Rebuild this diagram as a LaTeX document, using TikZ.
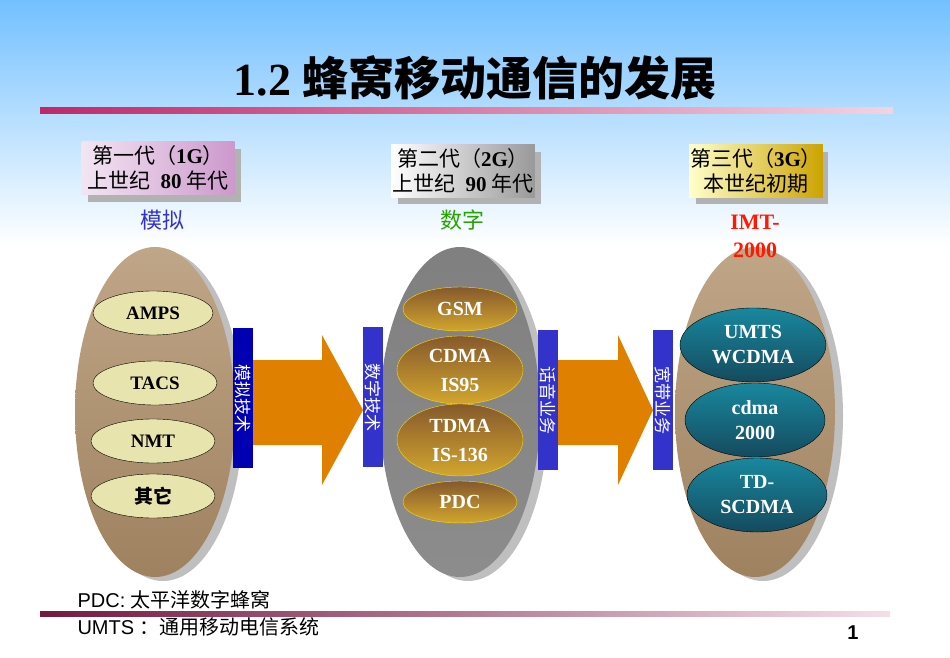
\documentclass[tikz,border=0pt]{standalone}
\usepackage{fontspec}
\setmainfont{Liberation Serif}
\newfontfamily\cjk{Noto Sans CJK SC}
\newfontfamily\lsans{Liberation Sans}
\usetikzlibrary{shapes.geometric,shadows}
\definecolor{tan}{HTML}{B0906A}
\definecolor{bar}{HTML}{3333CC}
\definecolor{org}{HTML}{E08000}
\definecolor{teal}{HTML}{1E6A86}
\definecolor{rose}{HTML}{C02868}
\begin{document}
\begin{tikzpicture}[x=1pt,y=-1pt,
 big/.style={ellipse,minimum width=160pt,minimum height=330pt,inner sep=0pt},
 sh/.style={fill=black!25},
 inA/.style={ellipse,draw=black,fill=yellow!15!olive!25!white,inner sep=0pt,font=\bfseries\fontsize{19}{20}\selectfont},
 inB/.style={ellipse,draw=yellow!80!orange,top color=brown!70!black,bottom color=brown!70!yellow,inner sep=0pt,text=white,font=\bfseries\fontsize{20}{29}\selectfont,align=center},
 inC/.style={ellipse,draw=black,top color=teal!80!cyan,bottom color=teal!70!black,inner sep=0pt,text=white,font=\bfseries\fontsize{20}{25}\selectfont,align=center},
 vbar/.style={fill=bar,minimum width=20pt,minimum height=140pt,inner sep=0pt},
 vtxt/.style={text=white,rotate=-90,font=\cjk\fontsize{17}{17}\selectfont},
 lbox/.style={inner sep=1pt,align=center,font=\fontsize{21}{25}\selectfont,minimum height=52pt}]
\useasboundingbox (0,0) rectangle (950,658);
\shade[top color=blue!45!cyan!55!white,bottom color=white] (0,0) rectangle (950,245);
\node (title) at (475,78) {\bfseries\fontsize{46}{50}\selectfont 1.2 {\cjk 蜂窝移动通信的发展}};
\shade[left color=rose,right color=rose!20!white] (40,108) rectangle (893,114);
\shade[left color=rose!60!black,right color=rose!15!white] (40,611) rectangle (890,616);
\fill[sh] (163,416) ellipse (80 and 165);
\node[big,top color=tan!80!white,bottom color=tan!90!black] (g1) at (155,412) {};
\fill[sh] (468,416) ellipse (80 and 165);
\node[big,top color=black!50,bottom color=black!45] (g2) at (460,412) {};
\fill[sh] (763,416) ellipse (80 and 165);
\node[big,top color=tan!80!white,bottom color=tan!90!black] (g3) at (755,412) {};
\node[inA,minimum width=120pt,minimum height=44pt] (amps) at (153,313) {AMPS};
\node[inA,minimum width=124pt,minimum height=44pt] (tacs) at (155,383) {TACS};
\node[inA,minimum width=124pt,minimum height=44pt] (nmt) at (153,441) {NMT};
\node[inA,minimum width=124pt,minimum height=44pt] (other) at (153,496) {\cjk 其它};
\node[inB,minimum width=114pt,minimum height=44pt] (gsm) at (460,309) {GSM};
\node[inB,minimum width=126pt,minimum height=68pt] (cdma) at (460,370) {CDMA\\IS95};
\node[inB,minimum width=126pt,minimum height=72pt] (tdma) at (460,440) {TDMA\\IS-136};
\node[inB,minimum width=114pt,minimum height=42pt] (pdc) at (460,502) {PDC};
\node[inC,minimum width=146pt,minimum height=74pt] (umts) at (753,345) {UMTS\\WCDMA};
\node[inC,minimum width=140pt,minimum height=74pt] (c2k) at (755,420) {cdma\\2000};
\node[inC,minimum width=140pt,minimum height=74pt] (td) at (757,495) {TD-\\SCDMA};
\fill[org] (253,360) -- (322,360) -- (322,335) -- (363,410) -- (322,485) -- (322,445) -- (253,445) -- cycle;
\fill[org] (557,360) -- (618,360) -- (618,335) -- (653,410) -- (618,485) -- (618,445) -- (557,445) -- cycle;
\node[vbar,fill=blue!70!black] (b1) at (243,398) {};
\node[vtxt] at (b1) {模拟技术};
\node[vbar] (b2) at (373,397) {};
\node[vtxt] at (b2) {数字技术};
\node[vbar] (b3) at (548,400) {};
\node[vtxt] at (b3) {话音业务};
\node[vbar] (b4) at (663,400) {};
\node[vtxt] at (b4) {宽带业务};
\fill[black!30] (88,149) rectangle (241,202);
\node[lbox,left color=violet!10!white,right color=violet!40!white,minimum width=153pt] (l1) at (158,168) {{\cjk 第一代（}\textbf{1G}{\cjk ）}\\{\cjk 上世纪}\ \ \textbf{80} {\cjk 年代}};
\fill[black!30] (398,152) rectangle (541,204);
\node[lbox,left color=white,right color=black!40,minimum width=143pt] (l2) at (463,171) {{\cjk 第二代（}\textbf{2G}{\cjk ）}\\{\cjk 上世纪}\ \ \textbf{90} {\cjk 年代}};
\fill[black!30] (696,152) rectangle (828,204);
\node[lbox,left color=yellow!20!white,right color=yellow!60!orange!80!black,minimum width=132pt] (l3) at (756,171) {{\cjk 第三代（}\textbf{3G}{\cjk ）}\\{\cjk 本世纪初期}};
\node[text=bar,font=\cjk\fontsize{22}{22}\selectfont] (m1) at (162,220) {模拟};
\node[text=green!55!black!80!lime,font=\cjk\fontsize{22}{22}\selectfont] (m2) at (462,220) {数字};
\node[text=red!80!orange,font=\bfseries\fontsize{22}{28}\selectfont,align=center] (m3) at (755,236) {IMT-\\2000};
\node[anchor=west,font=\lsans\fontsize{20}{20}\selectfont] (f1) at (74,600) {PDC: {\cjk 太平洋数字蜂窝}};
\node[anchor=west,font=\lsans\fontsize{20}{20}\selectfont] (f2) at (74,627) {UMTS {\cjk ：通用移动电信系统}};
\node[font=\lsans\bfseries\fontsize{20}{22}\selectfont] (pg) at (853,633) {1};
\end{tikzpicture}
\end{document}
